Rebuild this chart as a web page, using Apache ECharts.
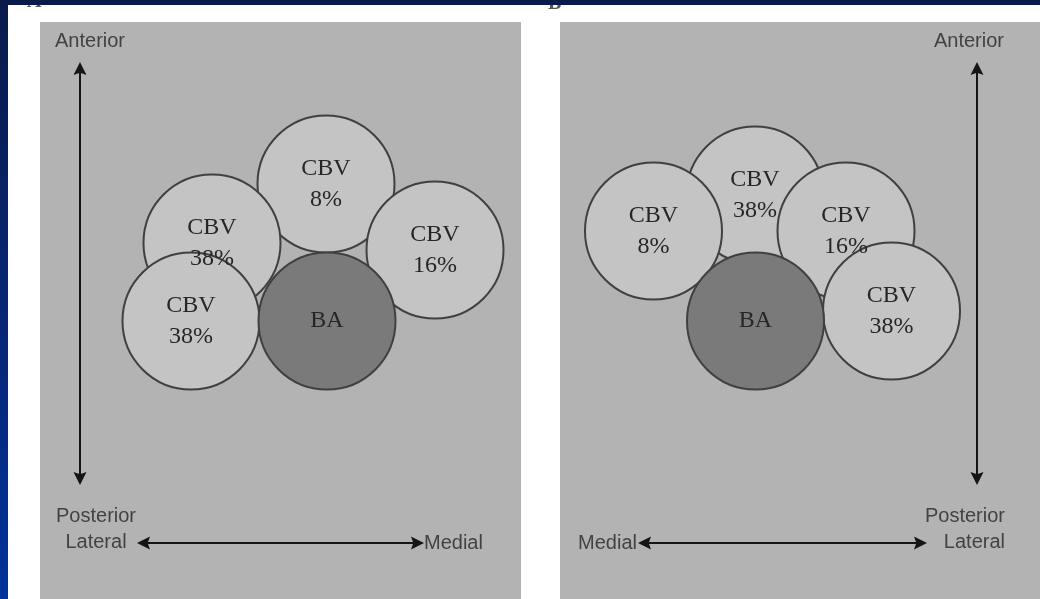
<!DOCTYPE html>
<html>
<head>
<meta charset="utf-8">
<script src="https://cdn.jsdelivr.net/npm/echarts@6/dist/echarts.min.js"></script>
<style>
html,body{margin:0;padding:0;background:#fff;}
#chart{width:1040px;height:599px;}
</style>
</head>
<body>
<div id="chart"></div>
<script>
// ---- data (panel units: origin at top-left of each grey panel) ----
const panelLetters = ['A', 'B'];

// Panel A circles (drawn in this order, later ones on top)
const circleLabelsA = ['CBV\n8%', 'CBV\n38%', 'CBV\n16%', 'CBV\n38%', 'BA'];
const circleXA = [286, 172, 395, 151, 287];
const circleYA = [162, 221, 228, 299, 299];

// Panel B circles
const circleLabelsB = ['CBV\n38%', 'CBV\n8%', 'CBV\n16%', 'CBV\n38%', 'BA'];
const circleXB = [195, 93.5, 286, 331.5, 195.5];
const circleYB = [173, 209, 209, 289, 299];

// Double-headed arrows [x1, y1, x2, y2] (centres of the arrow heads)
const arrowsA = [[40, 46.5, 40, 456.5], [103.5, 521, 377.5, 521]];
const arrowsB = [[417, 46.5, 417, 456.5], [84.5, 521, 360.5, 521]];

// Direction labels
const dirTextA = ['Anterior', 'Posterior\nLateral', 'Medial'];
const dirXA = [15, 56, 384];
const dirYA = [19, 507, 521];
const dirTextB = ['Anterior', 'Posterior\nLateral', 'Medial'];
const dirXB = [444, 445, 77];
const dirYB = [19, 507, 521];

// ---- build ----
const DIAM = 137;
const PANEL_BG = '#b3b3b3';
const ARROW_HEAD = 'path://M5,0L10,14L5,11.5L0,14Z';

function circleSeries(idx, labels, xs, ys) {
  return {
    type: 'scatter', xAxisIndex: idx, yAxisIndex: idx, silent: true, z: 3,
    symbol: 'circle', symbolSize: DIAM,
    data: labels.map((t, i) => ({
      value: [xs[i], ys[i]], name: t,
      itemStyle: { color: t === 'BA' ? '#7a7a7a' : '#c4c4c4' }
    })),
    itemStyle: { borderColor: '#404040', borderWidth: 2, opacity: 1 },
    label: {
      show: true, position: 'inside', formatter: p => p.name,
      fontFamily: 'Liberation Serif', fontSize: 24, lineHeight: 31, color: '#262626'
    },
    emphasis: { disabled: true }
  };
}

function arrowSeries(idx, arrows) {
  return {
    type: 'lines', coordinateSystem: 'cartesian2d', xAxisIndex: idx, yAxisIndex: idx,
    silent: true, z: 2,
    symbol: [ARROW_HEAD, ARROW_HEAD], symbolSize: 13,
    lineStyle: { color: '#151515', width: 2, opacity: 1 },
    data: arrows.map(a => ({ coords: [[a[0], a[1]], [a[2], a[3]]] }))
  };
}

function textSeries(idx, texts, xs, ys, positions) {
  return {
    type: 'scatter', xAxisIndex: idx, yAxisIndex: idx, silent: true, z: 4,
    symbolSize: 0,
    data: texts.map((t, i) => ({
      value: [xs[i], ys[i]], name: t,
      label: { position: positions[i] }
    })),
    label: {
      show: true, distance: 0, formatter: p => p.name,
      fontFamily: 'Liberation Sans', fontSize: 20, lineHeight: 26, color: '#262626'
    },
    emphasis: { disabled: true }
  };
}

const chart = echarts.init(document.getElementById('chart'), null, { renderer: 'canvas' });
chart.setOption({
  animation: false,
  backgroundColor: '#ffffff',
  grid: [
    { left: 40, top: 22, width: 481, height: 577, show: true, backgroundColor: PANEL_BG, borderWidth: 0 },
    { left: 560, top: 22, width: 480, height: 577, show: true, backgroundColor: PANEL_BG, borderWidth: 0 }
  ],
  xAxis: [
    { gridIndex: 0, type: 'value', min: 0, max: 481, show: false },
    { gridIndex: 1, type: 'value', min: 0, max: 480, show: false }
  ],
  yAxis: [
    { gridIndex: 0, type: 'value', min: 0, max: 577, inverse: true, show: false },
    { gridIndex: 1, type: 'value', min: 0, max: 577, inverse: true, show: false }
  ],
  graphic: [
    { type: 'text', left: 27, top: -8, z: 10, style: { text: panelLetters[0], font: 'bold 20px "Liberation Serif"', fill: '#555' } },
    { type: 'text', left: 548, top: -6, z: 10, style: { text: panelLetters[1], font: 'bold 20px "Liberation Serif"', fill: '#555' } },
    { type: 'rect', left: 0, top: 0, z: 11, shape: { width: 1040, height: 5 }, style: { fill: '#0b1a4b' } },
    { type: 'rect', left: 0, top: 0, z: 11, shape: { width: 8, height: 599 },
      style: { fill: new echarts.graphic.LinearGradient(0, 0, 0, 1, [
        { offset: 0, color: '#0b1a4b' }, { offset: 1, color: '#00329a' }]) } }
  ],
  series: [
    arrowSeries(0, arrowsA),
    arrowSeries(1, arrowsB),
    circleSeries(0, circleLabelsA, circleXA, circleYA),
    circleSeries(1, circleLabelsB, circleXB, circleYB),
    textSeries(0, dirTextA, dirXA, dirYA, ['right', 'inside', 'right']),
    textSeries(1, dirTextB, dirXB, dirYB, ['left', 'left', 'left'])
  ]
});
</script>
</body>
</html>
